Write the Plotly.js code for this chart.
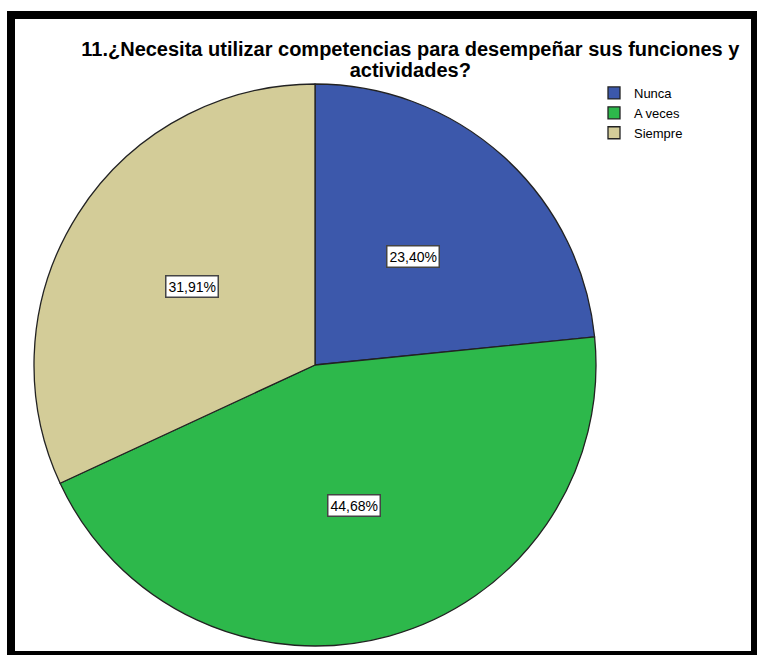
<!DOCTYPE html>
<html>
<head>
<meta charset="utf-8">
<script src="https://cdn.plot.ly/plotly-3.0.1.min.js"></script>
<style>
html,body{margin:0;padding:0;background:#fff;}
#chart{width:757px;height:655px;}
</style>
</head>
<body>
<div id="chart"></div>
<script>
const categories = ["Nunca", "A veces", "Siempre"];
const counts = [11, 21, 15];
const colors = ["#3C58AB", "#2DB84B", "#D3CC98"];
const titleLines = ["11.¿Necesita utilizar competencias para desempeñar sus funciones y", "actividades?"];

const W = 757, H = 655;
const dom = {x: [34 / W, 596 / W], y: [1 - 646 / H, 1 - 84 / H]};
const cx = (dom.x[0] + dom.x[1]) / 2 * W;
const cy = (1 - (dom.y[0] + dom.y[1]) / 2) * H;
const R = (dom.x[1] - dom.x[0]) * W / 2;

const total = counts.reduce((a, b) => a + b, 0);
const pctText = counts.map(v => (v / total * 100).toFixed(2).replace('.', ',') + '%');

// label annotations at the middle angle of each slice
let cum = 0;
const annotations = counts.map((v, i) => {
  const mid = (cum + v / 2) / total * 2 * Math.PI;
  cum += v;
  const px = cx + 0.52 * R * Math.sin(mid);
  const py = cy - 0.52 * R * Math.cos(mid);
  return {
    x: px / W, y: 1 - py / H, xref: 'paper', yref: 'paper',
    xanchor: 'center', yanchor: 'middle',
    text: pctText[i], showarrow: false,
    font: {family: 'Liberation Sans, Arial, sans-serif', size: 14, color: '#000'},
    bgcolor: '#fff', bordercolor: '#444', borderwidth: 1.5, borderpad: 2
  };
});

const trace = {
  type: 'pie',
  labels: categories,
  values: counts,
  sort: false,
  direction: 'clockwise',
  rotation: 0,
  textinfo: 'none',
  hoverinfo: 'label+percent',
  marker: {colors: colors, line: {color: '#222', width: 1.3}},
  domain: dom
};

const layout = {
  width: W, height: H,
  margin: {l: 0, r: 0, t: 0, b: 0},
  paper_bgcolor: '#fff',
  showlegend: true,
  title: {
    text: titleLines.map(s => '<span style="font-size:20px"><b>' + s + '</b></span>').join('<br>'),
    x: 0.542, xanchor: 'center',
    y: 1 - 56 / H, yanchor: 'top', yref: 'container',
    font: {family: 'Liberation Sans, Arial, sans-serif', size: 16, color: '#000'}
  },
  legend: {
    x: 594 / W, y: 1 - 78 / H, xanchor: 'left', yanchor: 'top',
    font: {family: 'Liberation Sans, Arial, sans-serif', size: 13, color: '#000'},
    bgcolor: 'rgba(0,0,0,0)', itemwidth: 30, tracegroupgap: 0
  },
  annotations: annotations,
  shapes: [{
    type: 'rect', xref: 'paper', yref: 'paper',
    x0: 11 / W, x1: 755 / W, y0: 1 - 655 / H, y1: 1 - 15 / H,
    line: {color: '#000', width: 8}, fillcolor: 'rgba(0,0,0,0)', layer: 'above'
  }]
};

Plotly.newPlot('chart', [trace], layout, {displayModeBar: false, staticPlot: true});
</script>
</body>
</html>
